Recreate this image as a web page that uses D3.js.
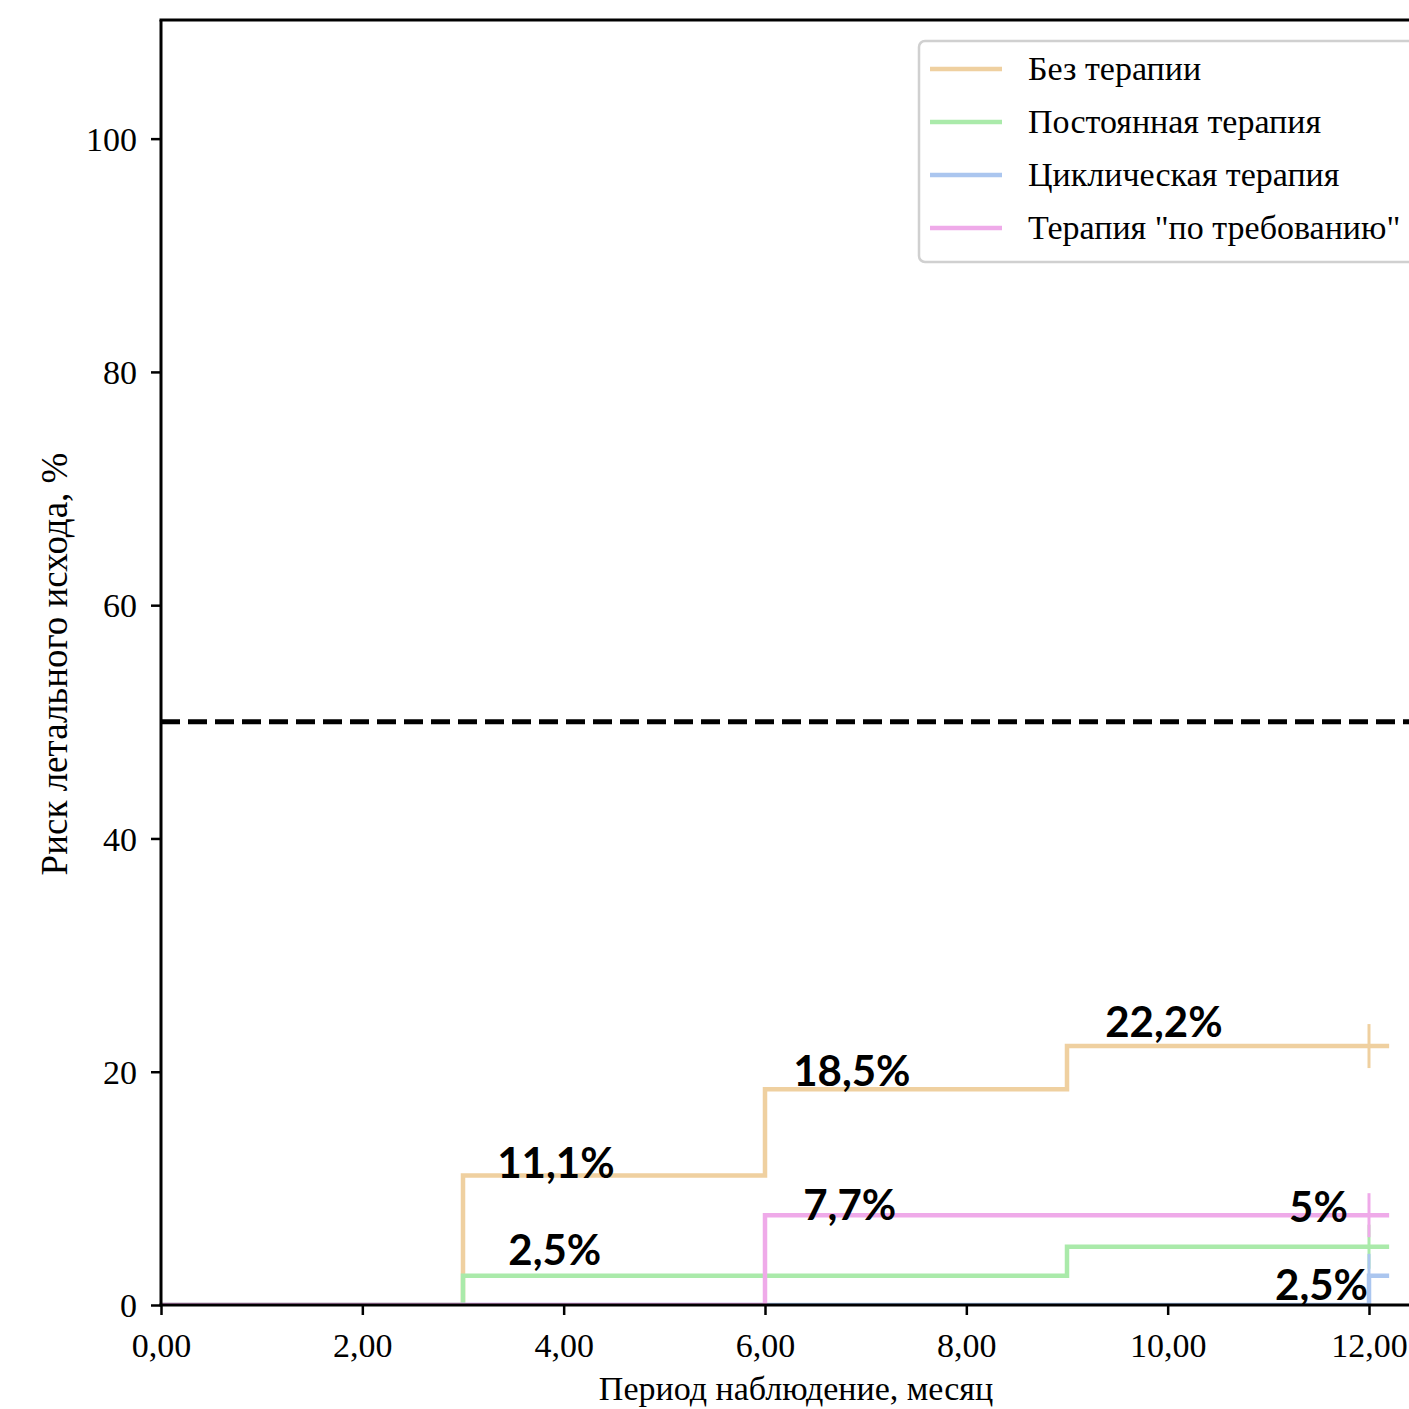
<!DOCTYPE html>
<html>
<head>
<meta charset="utf-8">
<script src="https://cdn.jsdelivr.net/npm/d3@7"></script>
<style>
  html, body { margin: 0; padding: 0; background: #fff; }
  svg { display: block; }
</style>
</head>
<body>
<svg id="chart" width="1409" height="1409"></svg>
<script>
// Kaplan–Meier style cumulative mortality risk, by therapy regimen
const seriesNames = ["Без терапии", "Постоянная терапия", "Циклическая терапия", "Терапия \"по требованию\""];
const seriesColors = ["#efd0a0", "#aaeaaa", "#abc6ef", "#efaae9"];

// step change points: months and risk (%) after each step
const noTherapyMonths = [0, 3, 6, 9];
const noTherapyRisk   = [0, 11.1, 18.5, 22.2];
const constantMonths  = [0, 3, 9];
const constantRisk    = [0, 2.5, 5];
const cyclicMonths    = [0, 12];
const cyclicRisk      = [0, 2.5];
const onDemandMonths  = [0, 6];
const onDemandRisk    = [0, 7.7];

const lastMonth = 12.2;      // end of follow-up line
const censorMonth = 12;      // censoring mark position
const medianLevel = 50;      // dashed reference line

const xTicks = [0, 2, 4, 6, 8, 10, 12];
const yTicks = [0, 20, 40, 60, 80, 100];
const xTickLabels = ["0,00", "2,00", "4,00", "6,00", "8,00", "10,00", "12,00"];

// value annotations: text, anchor month, anchor risk, alignment
const noteTexts   = ["11,1%", "18,5%", "22,2%", "2,5%", "7,7%", "5%", "2,5%"];
const noteMonths  = [3.34, 6.28, 9.38, 3.45, 6.38, 11.79, 11.99];
const noteRisk    = [10.9, 18.8, 23.0, 3.43, 7.29, 7.12, 0.43];
const noteAnchors = ["start", "start", "start", "start", "start", "end", "end"];

const series = [
  { months: noTherapyMonths, risk: noTherapyRisk },
  { months: constantMonths,  risk: constantRisk },
  { months: cyclicMonths,    risk: cyclicRisk },
  { months: onDemandMonths,  risk: onDemandRisk }
];

const svg = d3.select("#chart");
const plotLeft = 161, plotTop = 20, plotBottom = 1305, plotRight = 1460;

const x = d3.scaleLinear().domain([0, 12]).range([plotLeft, 1369]);
const y = d3.scaleLinear().domain([0, 110]).range([plotBottom, plotTop + 2]);

const serif = "'Liberation Serif', 'Times New Roman', serif";

svg.append("defs").append("clipPath").attr("id", "plotClip")
  .append("rect").attr("x", plotLeft).attr("y", plotTop)
  .attr("width", plotRight - plotLeft).attr("height", plotBottom - plotTop);

const plot = svg.append("g").attr("clip-path", "url(#plotClip)");

// reference line at 50%
plot.append("line")
  .attr("x1", plotLeft).attr("x2", plotRight)
  .attr("y1", y(medianLevel)).attr("y2", y(medianLevel))
  .attr("stroke", "#000").attr("stroke-width", 5)
  .attr("stroke-dasharray", "19 8");

// step curves
const stepLine = d3.line().x(d => x(d[0])).y(d => y(d[1])).curve(d3.curveStepAfter);
series.forEach((s, i) => {
  const pts = s.months.map((m, k) => [m, s.risk[k]]);
  pts.push([lastMonth, s.risk[s.risk.length - 1]]);
  plot.append("path")
    .attr("d", stepLine(pts))
    .attr("fill", "none")
    .attr("stroke", seriesColors[i])
    .attr("stroke-width", 4.5);
  // censoring tick
  const yc = y(s.risk[s.risk.length - 1]);
  plot.append("line")
    .attr("x1", x(censorMonth)).attr("x2", x(censorMonth))
    .attr("y1", yc - 22).attr("y2", yc + 22)
    .attr("stroke", seriesColors[i]).attr("stroke-width", 3);
});

// axes
const xAxis = d3.axisBottom(x).tickValues(xTicks).tickFormat((d, i) => xTickLabels[i]).tickSize(10).tickPadding(16);
const yAxis = d3.axisLeft(y).tickValues(yTicks).tickFormat(d3.format("d")).tickSize(10).tickPadding(14);

const gx = svg.append("g").attr("transform", `translate(0,${plotBottom})`).call(xAxis);
const gy = svg.append("g").attr("transform", `translate(${plotLeft},0)`).call(yAxis);
[gx, gy].forEach(g => {
  g.select(".domain").remove();
  g.selectAll(".tick line").attr("stroke", "#000").attr("stroke-width", 2.5);
  g.selectAll(".tick text").attr("fill", "#000").style("font-family", serif).style("font-size", "34px");
});
gx.selectAll(".tick text").attr("dy", "0.75em");
gy.selectAll(".tick text").attr("dy", "0.34em");

// spines
svg.append("line").attr("x1", plotLeft).attr("x2", plotLeft).attr("y1", plotTop).attr("y2", plotBottom)
  .attr("stroke", "#000").attr("stroke-width", 3);
svg.append("line").attr("x1", plotLeft - 1.5).attr("x2", plotRight).attr("y1", plotTop).attr("y2", plotTop)
  .attr("stroke", "#000").attr("stroke-width", 3);
svg.append("line").attr("x1", plotLeft - 1.5).attr("x2", plotRight).attr("y1", plotBottom).attr("y2", plotBottom)
  .attr("stroke", "#000").attr("stroke-width", 3);

// axis titles
svg.append("text")
  .attr("x", 796).attr("y", 1400)
  .attr("text-anchor", "middle")
  .style("font-family", serif).style("font-size", "34px")
  .text("Период наблюдение, месяц");
svg.append("text")
  .attr("transform", "translate(67,664) rotate(-90)")
  .attr("text-anchor", "middle")
  .style("font-family", serif).style("font-size", "37px")
  .text("Риск летального исхода, %");

// value annotations
noteTexts.forEach((t, i) => {
  svg.append("text")
    .attr("x", x(noteMonths[i])).attr("y", y(noteRisk[i]))
    .attr("text-anchor", noteAnchors[i])
    .style("font-family", "Lato, 'Open Sans', sans-serif")
    .style("font-weight", 700).style("font-size", "42px")
    .attr("fill", "#000")
    .text(t);
});

// legend
const legend = svg.append("g");
legend.append("rect")
  .attr("x", 919).attr("y", 41).attr("width", 560).attr("height", 221).attr("rx", 6)
  .attr("fill", "#fff").attr("fill-opacity", 0.85)
  .attr("stroke", "#d0d0d0").attr("stroke-width", 2.5);
seriesNames.forEach((name, i) => {
  const ly = 69 + i * 53;
  legend.append("line")
    .attr("x1", 930).attr("x2", 1002).attr("y1", ly).attr("y2", ly)
    .attr("stroke", seriesColors[i]).attr("stroke-width", 4.5);
  legend.append("text")
    .attr("x", 1028).attr("y", ly + 11)
    .style("font-family", serif).style("font-size", "34px")
    .attr("fill", "#000")
    .text(name);
});
</script>
</body>
</html>
